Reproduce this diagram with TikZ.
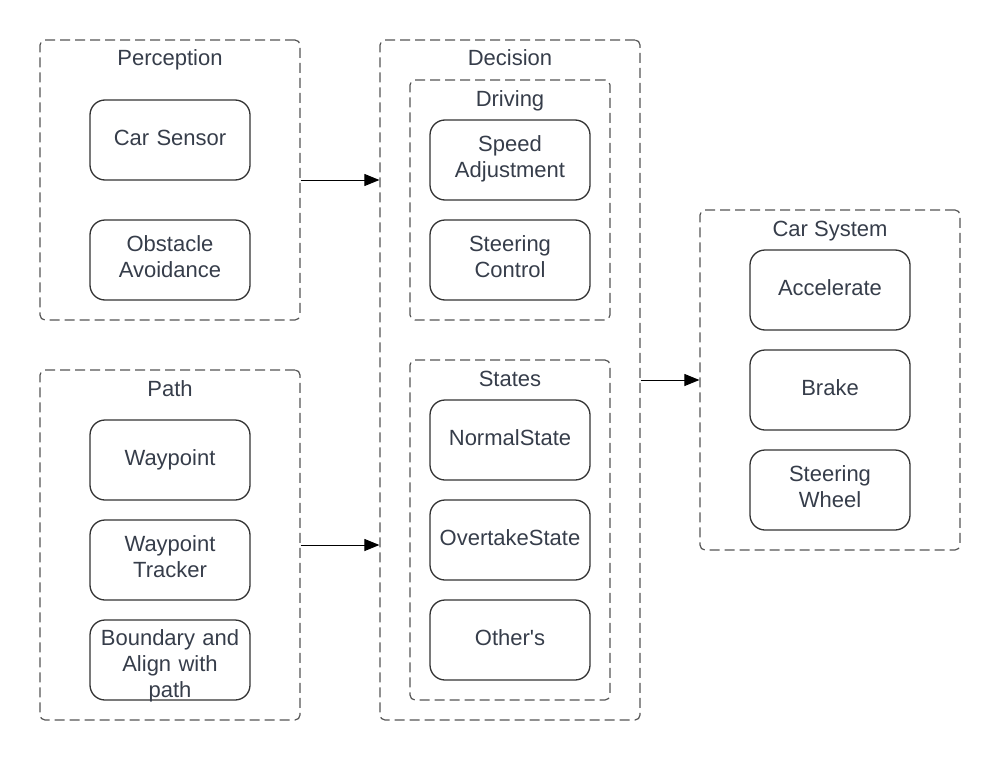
\documentclass[tikz,border=0pt]{standalone}
\usepackage{fontspec}
\setmainfont{Liberation Sans}
\usetikzlibrary{arrows.meta}
\definecolor{txt}{HTML}{363D4A}
\definecolor{grp}{HTML}{555555}
\definecolor{bx}{HTML}{333333}
\begin{document}
\begin{tikzpicture}[x=1pt,y=-1pt,
  font=\fontsize{22}{26}\selectfont, text=txt,
  group/.style={draw=grp, line width=1.2pt, dash pattern=on 10pt off 5pt, rounded corners=5pt, inner sep=0pt},
  inbox/.style={draw=bx, line width=1.3pt, rounded corners=15pt, minimum width=160pt, minimum height=80pt, inner sep=0pt, align=center, text width=158pt, text height=16pt, text depth=6pt},
  twoline/.style={text depth=34pt},
  threeline/.style={text height=22pt, text depth=52pt},
  gtitle/.style={inner sep=0pt, anchor=base},
  arr/.style={draw=black, line width=1pt, -{Triangle[length=15pt,width=12pt]}}]
\useasboundingbox (0,0) rectangle (1000,760);

% Perception
\node[group, minimum width=260pt, minimum height=280pt] (perc) at (170,180) {};
\node[gtitle] (percT) at (170,66) {Perception};
\node[inbox] (cs) at (170,140) {Car Sensor};
\node[inbox, twoline] (oa) at (170,260) {Obstacle\\Avoidance};

% Path
\node[group, minimum width=260pt, minimum height=350pt] (path) at (170,545) {};
\node[gtitle] (pathT) at (170,396) {Path};
\node[inbox] (wp) at (170,460) {Waypoint};
\node[inbox, twoline] (wpt) at (170,560) {Waypoint\\Tracker};
\node[inbox, threeline] (bnd) at (170,660) {Boundary and\\Align with\\path};

% Decision
\node[group, minimum width=260pt, minimum height=680pt] (dec) at (510,380) {};
\node[gtitle] (decT) at (510,66) {Decision};
\node[group, minimum width=200pt, minimum height=240pt] (drv) at (510,200) {};
\node[gtitle] (drvT) at (510,106) {Driving};
\node[inbox, twoline] (sa) at (510,160) {Speed\\Adjustment};
\node[inbox, twoline] (sc) at (510,260) {Steering\\Control};
\node[group, minimum width=200pt, minimum height=340pt] (st) at (510,530) {};
\node[gtitle] (stT) at (510,386) {States};
\node[inbox] (ns) at (510,440) {NormalState};
\node[inbox] (os) at (510,540) {OvertakeState};
\node[inbox] (ot) at (510,640) {Other\textquotesingle s};

% Car System
\node[group, minimum width=260pt, minimum height=340pt] (car) at (830,380) {};
\node[gtitle] (carT) at (830,236) {Car System};
\node[inbox] (acc) at (830,290) {Accelerate};
\node[inbox] (brk) at (830,390) {Brake};
\node[inbox, twoline] (sw) at (830,490) {Steering\\Wheel};

% Arrows
\draw[arr] (perc.east) -- (dec.west |- perc.east);
\draw[arr] (path.east) -- (dec.west |- path.east);
\draw[arr] (dec.east) -- (car.west);
\end{tikzpicture}
\end{document}
